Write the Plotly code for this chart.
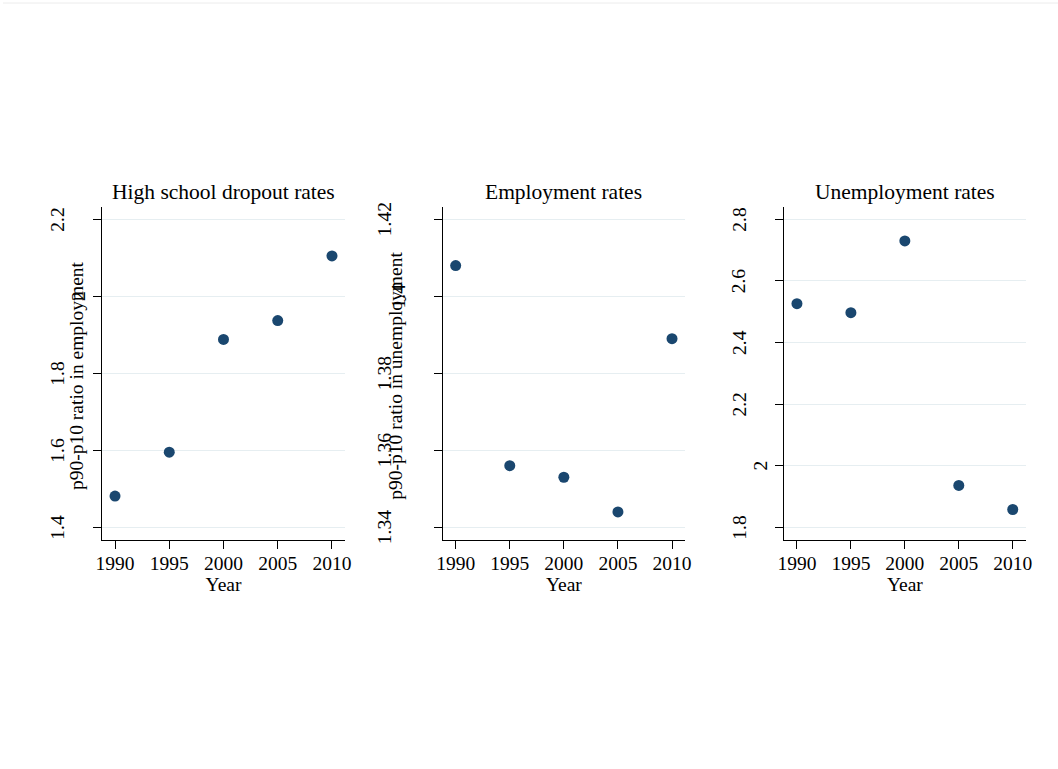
import plotly.graph_objects as go

# p90-p10 ratio by year for three outcomes
years = [1990, 1995, 2000, 2005, 2010]
dropout_ratio = [1.481, 1.595, 1.888, 1.937, 2.105]
employment_ratio = [1.408, 1.356, 1.353, 1.344, 1.389]
unemployment_ratio = [2.526, 2.497, 2.730, 1.936, 1.858]

panel_titles = ["High school dropout rates", "Employment rates", "Unemployment rates"]
y_titles = ["p90-p10 ratio in employment", "p90-p10 ratio in unemployment", None]

x_ticks = [1990, 1995, 2000, 2005, 2010]
y_ticks_1 = [1.4, 1.6, 1.8, 2.0, 2.2]
y_labels_1 = ["1.4", "1.6", "1.8", "2", "2.2"]
y_ticks_2 = [1.34, 1.36, 1.38, 1.40, 1.42]
y_labels_2 = ["1.34", "1.36", "1.38", "1.4", "1.42"]
y_ticks_3 = [1.8, 2.0, 2.2, 2.4, 2.6, 2.8]
y_labels_3 = ["1.8", "2", "2.2", "2.4", "2.6", "2.8"]

W, H = 1058, 769
FONT = "Liberation Serif"
MARKER = "#1a476f"
GRID = "#e6eef1"

# pixel layout of the three plot regions
x_px = [(102, 345), (442.7, 685), (784, 1025.7)]
y_px = (207, 540)
y_ranges = [(1.367, 2.232), (1.3367, 1.4232), (1.759, 2.840)]
y_title_shift = [26, 48, None]

series = [dropout_ratio, employment_ratio, unemployment_ratio]
y_ticks = [y_ticks_1, y_ticks_2, y_ticks_3]
y_labels = [y_labels_1, y_labels_2, y_labels_3]


def label_width_em(s):
    return sum(0.25 if ch == "." else 0.5 for ch in s)


fig = go.Figure()
annotations = []
for i in range(3):
    n = "" if i == 0 else str(i + 1)
    xa, ya = "x" + n, "y" + n
    fig.add_trace(go.Scatter(
        x=years, y=series[i], mode="markers",
        marker=dict(color=MARKER, size=11, line=dict(width=0)),
        xaxis=xa, yaxis=ya, showlegend=False,
    ))
    fig.update_layout(**{
        "xaxis" + n: dict(
            domain=[x_px[i][0] / W, x_px[i][1] / W],
            range=[1988.8, 2011.2], tickvals=x_ticks,
            ticks="outside", ticklen=8, tickcolor="black", tickwidth=1,
            ticklabelstandoff=-2,
            showline=True, linecolor="black", linewidth=1,
            showgrid=False, zeroline=False, anchor=ya, automargin=False,
            tickfont=dict(family=FONT, size=19.5, color="black"),
            title=dict(text="Year", font=dict(family=FONT, size=19.5, color="black"), standoff=0),
        ),
        "yaxis" + n: dict(
            domain=[1 - y_px[1] / H, 1 - y_px[0] / H],
            range=list(y_ranges[i]), tickvals=y_ticks[i], showticklabels=False,
            ticks="outside", ticklen=8, tickcolor="black", tickwidth=1,
            showline=True, linecolor="black", linewidth=1,
            showgrid=True, gridcolor=GRID, gridwidth=1.2,
            zeroline=False, anchor=xa, automargin=False,
        ),
    })
    # rotated y tick labels
    for v, lab in zip(y_ticks[i], y_labels[i]):
        annotations.append(dict(
            text=lab, xref=xa + " domain", yref=ya, x=0, y=v,
            xshift=-(9 + 28.5 * label_width_em(lab)), showarrow=False,
            textangle=-90, xanchor="center", yanchor="middle",
            font=dict(family=FONT, size=19.5, color="black"),
        ))
    # panel title
    annotations.append(dict(
        text=panel_titles[i], xref=xa + " domain", yref=ya + " domain",
        x=0.5, y=1, yshift=14.5, showarrow=False,
        xanchor="center", yanchor="middle",
        font=dict(family=FONT, size=21.5, color="black"),
    ))
    # y axis title
    if y_titles[i]:
        annotations.append(dict(
            text=y_titles[i], xref=xa + " domain", yref=ya + " domain",
            x=0, y=0.5, yshift=-2.5, xshift=-y_title_shift[i], showarrow=False,
            textangle=-90, xanchor="center", yanchor="middle",
            font=dict(family=FONT, size=19.5, color="black"),
        ))

fig.update_layout(
    width=W, height=H,
    margin=dict(l=0, r=0, t=0, b=0, pad=0, autoexpand=False),
    paper_bgcolor="white", plot_bgcolor="white",
    annotations=annotations,
    shapes=[dict(type="line", xref="paper", yref="paper",
                 x0=3 / W, x1=1, y0=1 - 3 / H, y1=1 - 3 / H,
                 line=dict(color="#ececec", width=1))],
)

fig.write_html("out.html")
